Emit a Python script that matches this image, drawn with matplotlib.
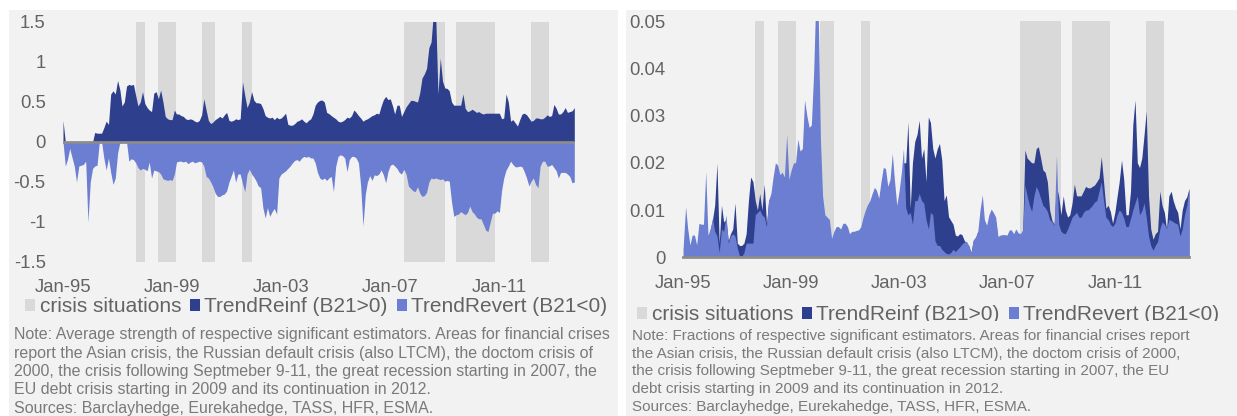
import numpy as np
import pandas as pd
import matplotlib
matplotlib.use("Agg")
import matplotlib.pyplot as plt
import matplotlib.dates as mdates
from matplotlib.patches import Patch, Rectangle

plt.rcParams["font.family"] = ["Liberation Sans", "DejaVu Sans"]
plt.rcParams["axes.unicode_minus"] = False

# ---------------- data ----------------
dates = pd.date_range("1995-01-01", periods=226, freq="MS")

strength_reinf = [
    0.27, 0, 0, 0, 0, 0, 0, 0, 0, 0,
    0, 0, 0, 0, 0.12, 0.11, 0.11, 0.11, 0.18, 0.26,
    0.22, 0.60, 0.64, 0.60, 0.77, 0.65, 0.45, 0.50, 0.70, 0.72,
    0.71, 0.72, 0.58, 0.45, 0.50, 0.63, 0.48, 0.43, 0.40, 0.38,
    0.61, 0.63, 0.54, 0.65, 0.50, 0.32, 0.29, 0.28, 0.28, 0.40,
    0.35, 0.35, 0.33, 0.32, 0.29, 0.28, 0.29, 0.28, 0.26, 0.25,
    0.27, 0.34, 0.54, 0.40, 0.27, 0.23, 0.25, 0.28, 0.30, 0.32,
    0.30, 0.34, 0.37, 0.27, 0.26, 0.27, 0.29, 0.28, 0.29, 0.75,
    0.58, 0.43, 0.50, 0.63, 0.52, 0.49, 0.49, 0.48, 0.42, 0.33,
    0.31, 0.30, 0.31, 0.28, 0.31, 0.29, 0.30, 0.33, 0.36, 0.22,
    0.21, 0.21, 0.23, 0.26, 0.27, 0.29, 0.26, 0.24, 0.27, 0.29,
    0.35, 0.46, 0.50, 0.52, 0.525, 0.50, 0.37, 0.355, 0.33, 0.31,
    0.29, 0.26, 0.25, 0.26, 0.28, 0.31, 0.30, 0.33, 0.40, 0.37,
    0.33, 0.30, 0.26, 0.28, 0.29, 0.31, 0.33, 0.34, 0.36, 0.35,
    0.45, 0.53, 0.57, 0.53, 0.54, 0.45, 0.35, 0.46, 0.46, 0.32,
    0.38, 0.44, 0.48, 0.52, 0.52, 0.51, 0.50, 0.62, 0.80, 0.85,
    0.92, 1.18, 1.25, 1.62, 1.58, 0.60, 1.05, 0.76, 0.675, 0.67,
    0.64, 0.50, 0.46, 0.46, 0.46, 0.46, 0.60, 0.42, 0.38, 0.39,
    0.41, 0.39, 0.37, 0.38, 0.36, 0.35, 0.36, 0.36, 0.36, 0.36,
    0.36, 0.36, 0.36, 0.29, 0.30, 0.60, 0.50, 0.26, 0.28, 0.24,
    0.20, 0.28, 0.35, 0.36, 0.34, 0.30, 0.26, 0.27, 0.30, 0.30,
    0.29, 0.29, 0.31, 0.34, 0.32, 0.33, 0.47, 0.42, 0.35, 0.35,
    0.38, 0.43, 0.37, 0.38, 0.39, 0.43,
]

strength_revert = [
    0, -0.30, -0.22, -0.08, -0.19, -0.30, -0.50, -0.30, -0.29, -0.28,
    -0.24, -1.00, -0.50, -0.33, -0.30, -0.29, 0, 0, -0.20, -0.35,
    -0.20, -0.38, -0.53, -0.45, -0.14, 0, 0, 0, 0, -0.24,
    -0.21, -0.22, -0.26, -0.32, -0.35, -0.33, -0.34, -0.36, -0.25, -0.45,
    -0.35, -0.36, -0.37, -0.40, -0.46, -0.47, -0.48, -0.47, -0.48, -0.40,
    -0.25, -0.24, -0.24, -0.25, -0.24, -0.27, -0.25, -0.24, -0.26, -0.25,
    -0.24, -0.25, -0.30, -0.43, -0.45, -0.50, -0.56, -0.64, -0.68, -0.68,
    -0.66, -0.65, -0.61, -0.50, -0.43, -0.35, -0.50, -0.40, -0.40, -0.52,
    -0.62, -0.40, -0.34, -0.40, -0.44, -0.49, -0.55, -0.57, -0.82, -0.95,
    -0.82, -0.93, -0.87, -0.83, -0.90, -0.45, -0.40, -0.38, -0.36, -0.33,
    -0.30, -0.26, -0.23, -0.22, -0.24, -0.20, -0.18, -0.19, -0.18, -0.20,
    -0.20, -0.26, -0.38, -0.45, -0.47, -0.45, -0.48, -0.45, -0.43, -0.62,
    -0.30, -0.18, -0.16, -0.17, -0.20, -0.37, -0.22, -0.18, -0.18, -0.20,
    -0.26, -0.55, -1.05, -0.65, -0.50, -0.42, -0.48, -0.41, -0.42, -0.40,
    -0.35, -0.41, -0.51, -0.37, -0.29, -0.275, -0.30, -0.33, -0.38, -0.40,
    -0.34, -0.40, -0.55, -0.58, -0.61, -0.62, -0.56, -0.64, -0.68, -0.67,
    -0.63, -0.50, -0.45, -0.46, -0.45, -0.46, -0.47, -0.46, -0.49, -0.48,
    -0.49, -0.75, -0.93, -0.91, -0.90, -0.87, -0.89, -0.91, -0.88, -0.80,
    -0.87, -0.90, -0.94, -0.96, -0.96, -1.03, -1.10, -1.12, -1.00, -0.89,
    -0.89, -0.86, -0.88, -0.60, -0.45, -0.35, -0.30, -0.24, -0.28, -0.31,
    -0.31, -0.30, -0.31, -0.37, -0.45, -0.55, -0.49, -0.45, -0.53, -0.57,
    -0.30, -0.24, -0.24, -0.30, -0.30, -0.28, -0.32, -0.36, -0.45, -0.38,
    -0.38, -0.38, -0.40, -0.43, -0.51, -0.50,
]

# fractions, in percent points (x0.01)
frac_reinf_pct = [
    0.20, 0.50, 0.40, 0.20, 0.30, 0.30, 0.20, 0.50, 0.50, 0.60,
    0.50, 0.40, 0.60, 0.80, 1.10, 1.99, 0.30, 1.10, 0.75, 0.80,
    0.35, 0.50, 0.60, 1.15, 0.30, 0.25, 0.25, 0.30, 0.50, 1.20,
    1.70, 1.60, 1.20, 1.00, 1.35, 1.00, 1.55, 0.70, 1.20, 1.30,
    1.00, 1.00, 1.00, 0.90, 0.90, 0.90, 1.00, 1.00, 1.00, 1.00,
    1.00, 1.00, 1.00, 1.00, 1.00, 1.00, 1.00, 1.00, 1.00, 1.00,
    1.00, 0.80, 0.60, 0.50, 0.50, 0.50, 0.30, 0.40, 0.50, 0.50,
    0.50, 0.60, 0.60, 0.50, 0.40, 0.45, 0.45, 0.45, 0.45, 0.50,
    0.60, 0.70, 0.80, 0.90, 1.00, 1.10, 1.10, 1.00, 1.20, 1.40,
    1.50, 1.20, 1.30, 1.60, 1.30, 0.90, 1.20, 1.50, 2.00, 2.00,
    2.87, 1.04, 2.00, 2.45, 2.60, 2.90, 2.10, 2.30, 1.60, 2.97,
    2.85, 2.30, 2.10, 2.30, 2.41, 2.06, 1.20, 1.32, 0.86, 0.78,
    0.70, 0.47, 0.45, 0.50, 0.48, 0.36, 0.30, 0.25, 0.10, 0.35,
    0.40, 0.55, 0.50, 1.00, 0.70, 0.60, 0.80, 0.90, 0.80, 0.75,
    0.40, 0.40, 0.40, 0.40, 0.40, 0.50, 0.50, 0.45, 0.50, 0.45,
    0.45, 0.50, 2.27, 2.10, 2.05, 2.00, 2.00, 2.30, 2.34, 2.10,
    1.85, 1.80, 1.60, 1.00, 0.78, 0.70, 1.50, 1.30, 0.90, 1.30,
    1.00, 0.85, 0.90, 1.15, 1.55, 1.30, 1.30, 1.30, 1.40, 1.50,
    1.47, 1.47, 1.50, 1.53, 1.60, 1.68, 2.13, 1.60, 1.04, 1.10,
    0.97, 0.72, 0.95, 1.30, 1.60, 2.06, 1.65, 0.90, 0.90, 1.40,
    2.80, 3.33, 2.00, 1.90, 2.10, 2.60, 3.10, 1.30, 0.60, 0.38,
    0.50, 0.55, 1.40, 1.10, 0.95, 0.60, 1.30, 1.40, 1.20, 1.05,
    0.95, 0.60, 1.00, 1.20, 1.28, 1.46,
]

frac_revert_pct = [
    0.26, 1.07, 0.61, 0.26, 0.47, 0.47, 0.26, 0.72, 0.70, 0.70,
    1.81, 0.47, 0.60, 0.83, 0.55, 0.45, 0.10, 0.60, 0.55, 0.90,
    0.30, 0.45, 0.50, 0.45, 0.20, 0.02, 0.02, 0.10, 0.30, 0.30,
    0.30, 0.30, 0.90, 0.95, 1.00, 0.90, 0.85, 0.65, 1.20, 1.35,
    1.70, 2.00, 1.95, 1.75, 1.80, 1.70, 2.60, 1.65, 1.85, 2.00,
    2.00, 2.50, 2.25, 2.30, 3.33, 3.00, 2.75, 2.80, 3.90, 5.50,
    5.20, 2.50, 1.30, 0.90, 0.85, 0.80, 0.40, 0.55, 0.65, 0.65,
    0.60, 0.72, 0.72, 0.65, 0.50, 0.55, 0.55, 0.57, 0.58, 0.65,
    0.85, 1.00, 1.12, 1.20, 1.35, 1.48, 1.42, 1.25, 1.60, 1.90,
    1.88, 1.50, 1.65, 2.20, 1.60, 1.10, 1.40, 1.80, 2.30, 1.05,
    0.90, 0.95, 0.70, 1.20, 1.20, 1.35, 1.20, 1.15, 0.80, 0.60,
    0.95, 0.90, 0.35, 0.25, 0.25, 0.17, 0.12, 0.08, 0.07, 0.10,
    0.17, 0.12, 0.17, 0.22, 0.28, 0.32, 0.34, 0.25, 0.10, 0.37,
    0.43, 0.54, 1.00, 1.32, 0.80, 0.68, 0.90, 1.02, 0.95, 0.85,
    0.44, 0.47, 0.48, 0.48, 0.47, 0.58, 0.58, 0.50, 0.60, 0.52,
    0.50, 0.58, 1.53, 1.30, 1.10, 0.97, 1.30, 1.50, 1.40, 1.25,
    1.10, 1.05, 0.97, 0.80, 0.75, 0.68, 2.16, 0.70, 0.55, 0.51,
    0.50, 0.60, 0.72, 0.85, 0.90, 0.95, 0.85, 0.85, 0.95, 1.00,
    1.00, 1.05, 1.10, 1.17, 1.20, 1.40, 1.60, 1.20, 0.85, 0.80,
    0.70, 0.65, 0.72, 0.90, 1.00, 0.95, 0.83, 0.65, 0.65, 0.82,
    1.00, 1.15, 1.30, 0.90, 0.98, 1.15, 0.85, 0.45, 0.25, 0.15,
    0.25, 0.33, 0.60, 0.75, 0.70, 0.60, 0.80, 0.78, 0.75, 0.72,
    0.70, 0.45, 0.60, 0.90, 1.10, 1.46,
]

crisis_periods = [
    ("1997-09-01", "1998-01-01"),
    ("1998-07-01", "1999-03-01"),
    ("2000-02-01", "2000-08-01"),
    ("2001-08-01", "2001-12-01"),
    ("2007-07-01", "2009-01-01"),
    ("2009-06-01", "2010-11-01"),
    ("2012-03-01", "2012-11-01"),
]

x_tick_years = [1995, 1999, 2003, 2007, 2011]
left_yticks = [-1.5, -1, -0.5, 0, 0.5, 1, 1.5]
left_ylabels = ["-1.5", "-1", "-0.5", "0", "0.5", "1", "1.5"]
right_yticks = [0, 0.01, 0.02, 0.03, 0.04, 0.05]
right_ylabels = ["0", "0.01", "0.02", "0.03", "0.04", "0.05"]

legend_labels = ["crisis situations", "TrendReinf (B21>0)", "TrendRevert (B21<0)"]

note_left = [
    "Note: Average strength of respective significant estimators. Areas for financial crises",
    "report the Asian crisis, the Russian default crisis (also LTCM), the doctom crisis of",
    "2000, the crisis following Septmeber 9-11, the great recession starting in 2007, the",
    "EU debt crisis starting in 2009 and its continuation in 2012.",
    "Sources: Barclayhedge, Eurekahedge, TASS, HFR, ESMA.",
]
note_right = [
    "Note: Fractions of respective significant estimators. Areas for financial crises report",
    "the Asian crisis, the Russian default crisis (also LTCM), the doctom crisis of 2000,",
    "the crisis following Septmeber 9-11, the great recession starting in 2007, the EU",
    "debt crisis starting in 2009 and its continuation in 2012.",
    "Sources: Barclayhedge, Eurekahedge, TASS, HFR, ESMA.",
]

# ---------------- style ----------------
DARK = "#2E3F8E"
LIGHT = "#6B7ED1"
CRISIS = "#D9D9D9"
BG = "#F2F2F2"
TXT = "#636363"
NOTE = "#7A7A7A"
ZERO = "#8C8C8C"

W, H = 1237, 416
fig = plt.figure(figsize=(W / 100, H / 100), dpi=100)
fig.patch.set_facecolor("white")


def fx(x):
    return x / W


def fy(y):
    return 1 - y / H


def add_rect(x0, y0, x1, y1, color, z):
    r = Rectangle((fx(x0), fy(y1)), fx(x1) - fx(x0), fy(y0) - fy(y1),
                  transform=fig.transFigure, facecolor=color, edgecolor="none", zorder=z)
    fig.add_artist(r)
    return r


add_rect(9, 10, 618, 416, BG, 0)
add_rect(626, 10, 1237, 416, BG, 0)

tick_dates = [pd.Timestamp(f"{y}-01-01") for y in x_tick_years]
crisis_ts = [(pd.Timestamp(a), pd.Timestamp(b)) for a, b in crisis_periods]


def style_axes(ax, yt, yl, ypad):
    ax.set_facecolor("none")
    for s in ax.spines.values():
        s.set_visible(False)
    ax.set_xlim(dates[0], dates[-1])
    ax.set_xticks(tick_dates)
    ax.xaxis.set_major_formatter(mdates.DateFormatter("%b-%y"))
    ax.set_yticks(yt)
    ax.set_yticklabels(yl)
    ax.tick_params(axis="both", length=0, labelsize=13.3, colors=TXT)
    ax.tick_params(axis="x", pad=12.5)
    ax.tick_params(axis="y", pad=ypad)
    for (a, b) in crisis_ts:
        ax.axvspan(a, b, color=CRISIS, lw=0, zorder=1)


# left panel
axL = fig.add_axes([fx(63), fy(262), fx(574.3) - fx(63), fy(22) - fy(262)])
style_axes(axL, left_yticks, left_ylabels, 12.5)
axL.set_ylim(-1.5, 1.5)
axL.fill_between(dates, 0, strength_reinf, color=DARK, lw=0, zorder=2)
axL.fill_between(dates, 0, strength_revert, color=LIGHT, lw=0, zorder=2)
axL.axhline(0, color=ZERO, lw=2, zorder=3)

# right panel
axR = fig.add_axes([fx(683.3), fy(257.3), fx(1189) - fx(683.3), fy(21) - fy(257.3)])
style_axes(axR, right_yticks, right_ylabels, 13)
axR.set_ylim(0, 0.05)
axR.fill_between(dates, 0, np.array(frac_reinf_pct) / 100, color=DARK, lw=0, zorder=2)
axR.fill_between(dates, 0, np.array(frac_revert_pct) / 100, color=LIGHT, lw=0, zorder=2)
axR.axhline(0, color=ZERO, lw=2, zorder=3, clip_on=False)

# legends
handles = [Patch(facecolor=CRISIS, edgecolor="none"),
           Patch(facecolor=DARK, edgecolor="none"),
           Patch(facecolor=LIGHT, edgecolor="none")]
for (x0, yc) in [(25, 307), (637, 315)]:
    leg = fig.legend(handles, legend_labels, loc="center left",
                     bbox_to_anchor=(fx(x0), fy(yc)), ncol=3, frameon=False,
                     fontsize=15.0, handlelength=0.48, handleheight=0.48,
                     handletextpad=0.22, columnspacing=0.42, borderpad=0,
                     borderaxespad=0)
    for t in leg.get_texts():
        t.set_color(TXT)
    leg.set_zorder(5)

# cover to clip the bottom of the right legend
add_rect(626, 321, 1237, 416, BG, 6)

# notes
for i, line in enumerate(note_left):
    fig.text(fx(14), fy(335 + i * 18.3), line, fontsize=11.5, color=NOTE,
             ha="left", va="center", zorder=7)
for i, line in enumerate(note_right):
    fig.text(fx(632), fy(336 + i * 17.7), line, fontsize=11.0, color=NOTE,
             ha="left", va="center", zorder=7)

fig.savefig("out.png", dpi=100, facecolor=fig.get_facecolor())
